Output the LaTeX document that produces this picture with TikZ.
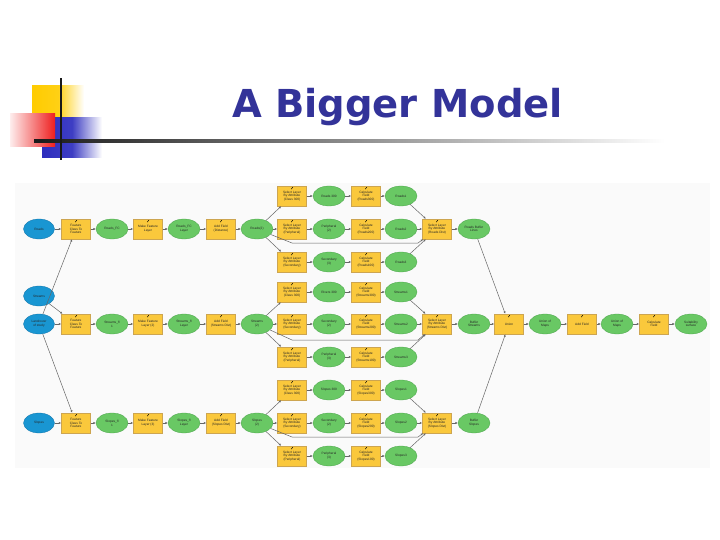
\documentclass[tikz,border=0pt]{standalone}
\usepackage{fontspec}
\setmainfont{Liberation Sans}
\newfontfamily\titlefont{DejaVu Sans}
\usetikzlibrary{shapes.geometric,arrows.meta}
\definecolor{titleblue}{RGB}{51,51,153}
\definecolor{inblue}{RGB}{25,150,210}
\definecolor{inblueD}{RGB}{15,115,170}
\definecolor{outgreen}{RGB}{105,200,100}
\definecolor{outgreenD}{RGB}{75,165,75}
\definecolor{toolyel}{RGB}{250,200,60}
\definecolor{toolyelD}{RGB}{205,165,80}
\definecolor{logoyel}{RGB}{255,204,0}
\definecolor{logored}{RGB}{238,30,30}
\definecolor{logoblue}{RGB}{45,45,190}
\begin{document}
\begin{tikzpicture}[x=1pt,y=-1pt,
  lbl/.style={font=\fontsize{3.2}{3.7}\selectfont, align=center, inner sep=0pt, text=black!85},
  inp/.style={ellipse, lbl, draw=inblueD, line width=0.3pt, fill=inblue, minimum width=31pt, minimum height=20pt},
  dat/.style={ellipse, lbl, draw=outgreenD, line width=0.3pt, fill=outgreen, minimum width=32pt, minimum height=20pt},
  tool/.style={rectangle, lbl, draw=toolyelD, line width=0.4pt, fill=toolyel, minimum width=29pt, minimum height=20pt,
    path picture={\draw[black, line width=0.45pt] ([xshift=-0.8pt,yshift=-3.2pt]path picture bounding box.north) -- ++(2pt,2.6pt);}},
  conn/.style={draw=black!60, line width=0.5pt, -{Latex[length=2.4pt,width=2.2pt]}},
]
\useasboundingbox (0,0) rectangle (720,540);
\fill[white] (0,0) rectangle (720,540);

% ---- logo ----
\shade[left color=logoyel, right color=white, middle color=logoyel!92] (32,86) rectangle (84,118);
\shade[left color=logoblue, right color=white, middle color=logoblue!92] (42,118) rectangle (102,158);
\shade[left color=logored!8, right color=logored] (10,114) rectangle (55,147);
\shade[left color=black!90, right color=white, middle color=black!45] (34,139.8) rectangle (665,142.4);
\fill[black!90] (59.7,78) rectangle (62.3,160);

% ---- title ----
\node[anchor=base, inner sep=0pt, text=titleblue, font=\titlefont\bfseries\fontsize{38.5}{40}\selectfont] (title) at (397.5,118) {A Bigger Model};

% ---- diagram background ----
\fill[black!2] (15,183) rectangle (710,468);

% ---- Row A ----
\node[inp]  (inA) at (39,229) {Roads};
\node[tool] (tA1) at (76,229) {Feature\\Class To\\Feature};
\node[dat]  (dA1) at (112,229) {Roads\_FC};
\node[tool] (tA2) at (148,229) {Make Feature\\Layer};
\node[dat]  (dA2) at (184,229) {Roads\_FC\\Layer};
\node[tool] (tA3) at (221,229) {Add Field\\(Distance)};
\node[dat]  (dA3) at (257,229) {Roads(2)};
\node[tool] (sA1) at (292,196) {Select Layer\\By Attribute\\(Class 300)};
\node[dat]  (gA1) at (329,196) {Roads 300};
\node[tool] (cA1) at (366,196) {Calculate\\Field\\(Roads300)};
\node[dat]  (hA1) at (401,196) {Roads1};
\node[tool] (sA2) at (292,229) {Select Layer\\By Attribute\\(Peripheral)};
\node[dat]  (gA2) at (329,229) {Peripheral\\(2)};
\node[tool] (cA2) at (366,229) {Calculate\\Field\\(Roads200)};
\node[dat]  (hA2) at (401,229) {Roads2};
\node[tool] (sA3) at (292,262) {Select Layer\\By Attribute\\(Secondary)};
\node[dat]  (gA3) at (329,262) {Secondary\\(3)};
\node[tool] (cA3) at (366,262) {Calculate\\Field\\(Roads100)};
\node[dat]  (hA3) at (401,262) {Roads3};
\node[tool] (mA)  at (437,229) {Select Layer\\By Attribute\\(Roads Dist)};
\node[dat]  (oA)  at (474,229) {Roads Buffer\\Lines};

% ---- Row B ----
\node[inp]  (inS) at (39,296) {Streams};
\node[inp]  (inB) at (39,324) {Landcover\\of study};
\node[tool] (tB1) at (76,324) {Feature\\Class To\\Feature};
\node[dat]  (dB1) at (112,324) {Streams\_fl\\1};
\node[tool] (tB2) at (148,324) {Make Feature\\Layer (2)};
\node[dat]  (dB2) at (184,324) {Streams\_fl\\Layer};
\node[tool] (tB3) at (221,324) {Add Field\\(Streams Dist)};
\node[dat]  (dB3) at (257,324) {Streams\\(2)};
\node[tool] (sB1) at (292,292) {Select Layer\\By Attribute\\(Class 300)};
\node[dat]  (gB1) at (329,292) {Rivers 300};
\node[tool] (cB1) at (366,292) {Calculate\\Field\\(Streams300)};
\node[dat]  (hB1) at (401,292) {Streams1};
\node[tool] (sB2) at (292,324) {Select Layer\\By Attribute\\(Secondary)};
\node[dat]  (gB2) at (329,324) {Secondary\\(2)};
\node[tool] (cB2) at (366,324) {Calculate\\Field\\(Streams200)};
\node[dat]  (hB2) at (401,324) {Streams2};
\node[tool] (sB3) at (292,357) {Select Layer\\By Attribute\\(Peripheral)};
\node[dat]  (gB3) at (329,357) {Peripheral\\(3)};
\node[tool] (cB3) at (366,357) {Calculate\\Field\\(Streams100)};
\node[dat]  (hB3) at (401,357) {Streams3};
\node[tool] (mB)  at (437,324) {Select Layer\\By Attribute\\(Streams Dist)};
\node[dat]  (oB)  at (474,324) {Buffer\\Streams};

% ---- Row C ----
\node[inp]  (inC) at (39,423) {Slopes};
\node[tool] (tC1) at (76,423) {Feature\\Class To\\Feature};
\node[dat]  (dC1) at (112,423) {Slopes\_fl\\1};
\node[tool] (tC2) at (148,423) {Make Feature\\Layer (3)};
\node[dat]  (dC2) at (184,423) {Slopes\_fl\\Layer};
\node[tool] (tC3) at (221,423) {Add Field\\(Slopes Dist)};
\node[dat]  (dC3) at (257,423) {Slopes\\(2)};
\node[tool] (sC1) at (292,390) {Select Layer\\By Attribute\\(Class 300)};
\node[dat]  (gC1) at (329,390) {Slopes 300};
\node[tool] (cC1) at (366,390) {Calculate\\Field\\(Slopes300)};
\node[dat]  (hC1) at (401,390) {Slopes1};
\node[tool] (sC2) at (292,423) {Select Layer\\By Attribute\\(Secondary)};
\node[dat]  (gC2) at (329,423) {Secondary\\(2)};
\node[tool] (cC2) at (366,423) {Calculate\\Field\\(Slopes200)};
\node[dat]  (hC2) at (401,423) {Slopes2};
\node[tool] (sC3) at (292,456) {Select Layer\\By Attribute\\(Peripheral)};
\node[dat]  (gC3) at (329,456) {Peripheral\\(3)};
\node[tool] (cC3) at (366,456) {Calculate\\Field\\(Slopes100)};
\node[dat]  (hC3) at (401,456) {Slopes3};
\node[tool] (mC)  at (437,423) {Select Layer\\By Attribute\\(Slopes Dist)};
\node[dat]  (oC)  at (474,423) {Buffer\\Slopes};

% ---- final chain ----
\node[tool] (u1) at (509,324) {Union};
\node[dat]  (f1) at (545,324) {Union of\\Maps};
\node[tool] (u2) at (582,324) {Add Field};
\node[dat]  (f2) at (617,324) {Union of\\Maps};
\node[tool] (u3) at (654,324) {Calculate\\Field};
\node[dat]  (f3) at (691,324) {Suitability\\surface};

% ---- connectors ----
\foreach \r in {A,B,C}{
  \draw[conn] (in\r) -- (t\r1);
  \draw[conn] (t\r1) -- (d\r1);
  \draw[conn] (d\r1) -- (t\r2);
  \draw[conn] (t\r2) -- (d\r2);
  \draw[conn] (d\r2) -- (t\r3);
  \draw[conn] (t\r3) -- (d\r3);
  \foreach \k in {1,2,3}{
    \draw[conn] (d\r3) -- (s\r\k);
    \draw[conn] (s\r\k) -- (g\r\k);
    \draw[conn] (g\r\k) -- (c\r\k);
    \draw[conn] (c\r\k) -- (h\r\k);
    \draw[conn] (h\r\k) -- (m\r);
  }
  \draw[conn] (m\r) -- (o\r);
  \draw[conn] (o\r) -- (u1);
}
\draw[conn] (dA3) -- (292,243) -- (418,243) -- (mA);
\draw[conn] (dB3) -- (292,340) -- (418,340) -- (mB);
\draw[conn] (dC3) -- (292,437) -- (418,437) -- (mC);
\draw[conn] (inB) -- (tA1);
\draw[conn] (inB) -- (tC1);
\draw[conn] (inS) -- (tB1);
\draw[conn] (u1) -- (f1);
\draw[conn] (f1) -- (u2);
\draw[conn] (u2) -- (f2);
\draw[conn] (f2) -- (u3);
\draw[conn] (u3) -- (f3);
\end{tikzpicture}
\end{document}
